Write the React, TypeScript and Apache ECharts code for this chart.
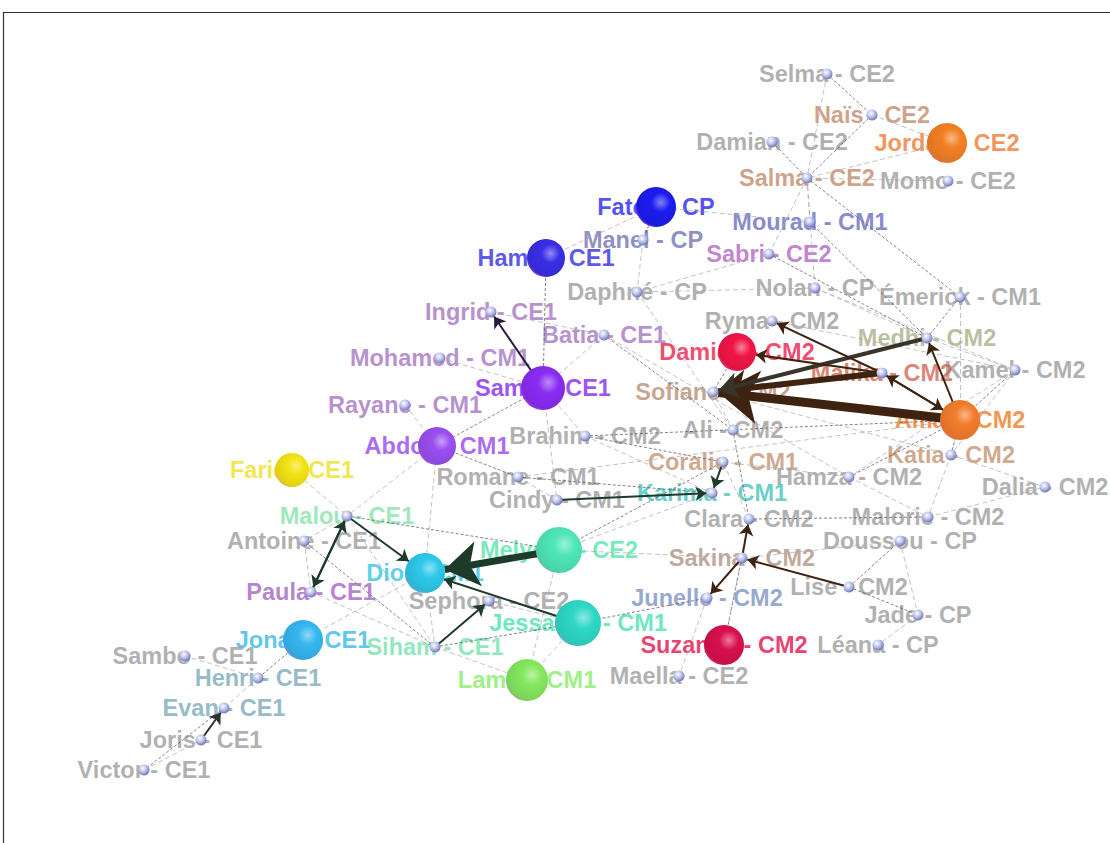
import React, { useEffect, useRef } from "react";
import * as echarts from "echarts";

// [name, class, x, y]
const people: [string, string, number, number][] = [
  ["Selma", "CE2", 827, 74],
  ["Naïs", "CE2", 872, 115],
  ["Damian", "CE2", 772, 142],
  ["Jordan", "CE2", 947, 143],
  ["Salma", "CE2", 807, 178],
  ["Momo", "CE2", 948, 181],
  ["Fatou", "CP", 656, 207],
  ["Mourad", "CM1", 810, 222],
  ["Manel", "CP", 643, 240],
  ["Hamia", "CE1", 546, 258],
  ["Sabri", "CE2", 769, 254],
  ["Daphné", "CP", 637, 292],
  ["Nolan", "CP", 815, 288],
  ["Émerick", "CM1", 960, 297],
  ["Ingrid", "CE1", 491, 312],
  ["Ryma", "CM2", 772, 321],
  ["Batia", "CE1", 604, 335],
  ["Medhi", "CM2", 927, 338],
  ["Damien", "CM2", 737, 352],
  ["Mohamed", "CM1", 440, 358],
  ["Kamel", "CM2", 1015, 370],
  ["Malika", "CM2", 882, 373],
  ["Samia", "CE1", 543, 388],
  ["Sofiane", "CM2", 713, 392],
  ["Rayane", "CM1", 405, 405],
  ["Amar", "CM2", 960, 420],
  ["Ali", "CM2", 733, 430],
  ["Brahim", "CM2", 585, 436],
  ["Abdou", "CM1", 437, 446],
  ["Katia", "CM2", 951, 455],
  ["Coralie", "CM1", 723, 462],
  ["Farid", "CE1", 292, 470],
  ["Romane", "CM1", 518, 477],
  ["Hamza", "CM2", 849, 477],
  ["Dalia", "CM2", 1045, 487],
  ["Karima", "CM1", 712, 493],
  ["Cindy", "CM1", 557, 500],
  ["Malou", "CE1", 347, 516],
  ["Malorie", "CM2", 928, 517],
  ["Clara", "CM2", 749, 519],
  ["Antoine", "CE1", 304, 541],
  ["Doussou", "CP", 900, 541],
  ["Melyssa", "CE2", 559, 550],
  ["Sakina", "CM2", 742, 558],
  ["Dior", "CM1", 425, 573],
  ["Lise", "CM2", 849, 587],
  ["Paula", "CE1", 311, 592],
  ["Junelle", "CM2", 707, 598],
  ["Sephora", "CE2", 489, 601],
  ["Jade", "CP", 918, 615],
  ["Jessanna", "CM1", 578, 623],
  ["Jonas", "CE1", 303, 640],
  ["Suzanne", "CM2", 724, 645],
  ["Léana", "CP", 878, 645],
  ["Siham", "CE1", 435, 647],
  ["Sambo", "CE1", 185, 656],
  ["Maella", "CE2", 679, 676],
  ["Henri", "CE1", 258, 678],
  ["Lamia", "CM1", 527, 680],
  ["Evan", "CE1", 224, 708],
  ["Joris", "CE1", 201, 740],
  ["Victor", "CE1", 144, 770],
];

// big spheres: name -> [diameter, base colour]
const bigNodes: Record<string, [number, string]> = {
  Fatou: [40, "#1c1cf0"],
  Hamia: [38, "#3a2ee6"],
  Samia: [44, "#8a2cf2"],
  Abdou: [38, "#9a4ef0"],
  Farid: [34, "#f2e412"],
  Dior: [40, "#2ec8ea"],
  Jonas: [40, "#36b6f0"],
  Melyssa: [46, "#4ee6b8"],
  Jessanna: [46, "#2ed8c6"],
  Lamia: [42, "#84e85e"],
  Suzanne: [40, "#d8104e"],
  Damien: [38, "#f01646"],
  Amar: [40, "#f27c2c"],
  Jordan: [40, "#f28024"],
};

const labelColors: Record<string, string> = {
  Fatou: "#2424f2", Hamia: "#2e2ee2", Samia: "#8424f0", Abdou: "#9444ee",
  Farid: "#eee020", Dior: "#32c4e2", Jonas: "#34b8ea", Melyssa: "#52e6a6",
  Jessanna: "#46e2b2", Lamia: "#84ee66", Suzanne: "#e4104a", Damien: "#ee1a4a",
  Amar: "#f27a22", Jordan: "#ee7a30",
  Naïs: "#c28a6a", Salma: "#c28a6a", Mourad: "#6a6ac2", Manel: "#7272b2",
  Sabri: "#b264c2", Ingrid: "#a474c2", Batia: "#a474c2", Mohamed: "#a474c2",
  Rayane: "#a474c2", Paula: "#a462c2", Medhi: "#a8ae86", Malika: "#d26452",
  Sofiane: "#b88e72", Coralie: "#c29272", Katia: "#c29272", Karima: "#44c2ba",
  Junelle: "#7a92c2", Sakina: "#b09282", Malou: "#84e2aa", Siham: "#74e2aa",
  Henri: "#7aa8b8", Evan: "#7aa8b8",
};

// directed ties: [source, target, weight]
const arrows: [string, string, number][] = [
  ["Amar", "Sofiane", 9],
  ["Malika", "Sofiane", 6],
  ["Medhi", "Sofiane", 4],
  ["Melyssa", "Dior", 7],
  ["Samia", "Ingrid", 2],
  ["Malou", "Dior", 2],
  ["Paula", "Malou", 2],
  ["Malou", "Paula", 2],
  ["Jessanna", "Dior", 2],
  ["Siham", "Sephora", 2],
  ["Joris", "Evan", 2],
  ["Cindy", "Karima", 2],
  ["Coralie", "Karima", 2],
  ["Malika", "Damien", 2],
  ["Malika", "Ryma", 2],
  ["Amar", "Malika", 2],
  ["Malika", "Amar", 2],
  ["Amar", "Medhi", 2],
  ["Lise", "Sakina", 2],
  ["Sakina", "Clara", 2],
  ["Sakina", "Junelle", 2],
];

// undirected thin ties
const ties: [string, string][] = [
  ["Selma", "Naïs"], ["Selma", "Salma"], ["Naïs", "Jordan"], ["Naïs", "Salma"],
  ["Jordan", "Salma"], ["Salma", "Momo"], ["Damian", "Salma"], ["Salma", "Sabri"],
  ["Salma", "Mourad"], ["Salma", "Émerick"], ["Salma", "Nolan"], ["Fatou", "Mourad"],
  ["Fatou", "Manel"], ["Fatou", "Hamia"], ["Manel", "Daphné"], ["Hamia", "Samia"],
  ["Daphné", "Sabri"], ["Daphné", "Ali"], ["Sabri", "Medhi"], ["Nolan", "Medhi"],
  ["Nolan", "Kamel"], ["Émerick", "Medhi"], ["Émerick", "Amar"], ["Medhi", "Kamel"],
  ["Kamel", "Amar"], ["Kamel", "Katia"], ["Katia", "Dalia"], ["Katia", "Amar"],
  ["Katia", "Malorie"], ["Hamza", "Malorie"], ["Hamza", "Amar"], ["Ingrid", "Batia"],
  ["Batia", "Samia"], ["Batia", "Ali"], ["Mohamed", "Samia"], ["Samia", "Brahim"],
  ["Samia", "Abdou"], ["Samia", "Cindy"], ["Rayane", "Abdou"], ["Abdou", "Romane"],
  ["Abdou", "Dior"], ["Abdou", "Malou"], ["Brahim", "Coralie"], ["Brahim", "Karima"],
  ["Romane", "Cindy"], ["Romane", "Karima"], ["Farid", "Malou"], ["Malou", "Antoine"],
  ["Malou", "Melyssa"], ["Malou", "Siham"], ["Antoine", "Paula"], ["Antoine", "Siham"],
  ["Paula", "Siham"], ["Jonas", "Dior"], ["Jonas", "Henri"], ["Henri", "Sambo"],
  ["Henri", "Evan"], ["Evan", "Victor"], ["Victor", "Joris"], ["Siham", "Lamia"],
  ["Siham", "Jessanna"], ["Dior", "Siham"], ["Melyssa", "Karima"], ["Melyssa", "Coralie"],
  ["Melyssa", "Sakina"], ["Melyssa", "Lamia"], ["Jessanna", "Junelle"], ["Jessanna", "Sephora"],
  ["Lamia", "Jessanna"], ["Clara", "Malorie"], ["Clara", "Coralie"], ["Sakina", "Doussou"],
  ["Sakina", "Suzanne"], ["Suzanne", "Clara"], ["Junelle", "Maella"], ["Doussou", "Lise"],
  ["Doussou", "Jade"], ["Jade", "Léana"], ["Lise", "Jade"], ["Malorie", "Dalia"],
  ["Ali", "Sofiane"], ["Ali", "Clara"], ["Coralie", "Hamza"], ["Sofiane", "Katia"],
  ["Damien", "Sofiane"], ["Ryma", "Kamel"], ["Hamza", "Kamel"], ["Brahim", "Amar"],
  ["Romane", "Amar"], ["Daphné", "Nolan"], ["Mourad", "Medhi"], ["Batia", "Hamza"],
];

function shade(hex: string, f: number): string {
  const n = parseInt(hex.slice(1), 16);
  let r = (n >> 16) & 255, g = (n >> 8) & 255, b = n & 255;
  if (f >= 0) {
    r = r + (255 - r) * f; g = g + (255 - g) * f; b = b + (255 - b) * f;
  } else {
    r = r * (1 + f); g = g * (1 + f); b = b * (1 + f);
  }
  const h = (v: number) => Math.round(v).toString(16).padStart(2, "0");
  return "#" + h(r) + h(g) + h(b);
}

function sphere(base: string) {
  return {
    type: "radial", x: 0.62, y: 0.38, r: 0.8,
    colorStops: [
      { offset: 0, color: shade(base, 0.45) },
      { offset: 0.3, color: base },
      { offset: 0.75, color: shade(base, -0.08) },
      { offset: 1, color: "#e268e0" },
    ],
  };
}

const smallSphere = {
  type: "radial", x: 0.4, y: 0.35, r: 0.7,
  colorStops: [
    { offset: 0, color: "#ffffff" },
    { offset: 0.5, color: "#b8c0ec" },
    { offset: 1, color: "#6a6aa8" },
  ],
};

function arrowColor(src: string): string {
  const cls = people.find((p) => p[0] === src)?.[1];
  if (src === "Samia") return "#2a1840";
  if (src === "Medhi") return "#38342a";
  if (cls === "CM2") return "#3e2410";
  if (src === "Joris") return "#303030";
  return "#1e3a2a";
}

export default function App() {
  const ref = useRef<HTMLDivElement>(null);
  useEffect(() => {
    document.body.style.margin = "0";
    const chart = echarts.init(ref.current!, null, { renderer: "svg" });
    const nodeData = people.map(([n, , x, y]) => {
      const big = bigNodes[n];
      return {
        name: n,
        value: [x, y],
        symbolSize: big ? big[0] : 11,
        itemStyle: { color: big ? sphere(big[1]) : smallSphere },
      };
    });
    const labelData = people.map(([n, c, x, y]) => ({
      name: n + " - " + c,
      value: [x, y],
      label: { color: labelColors[n] || "#9c9c9c" },
    }));
    const linkData: any[] = [];
    ties.forEach(([s, t], i) => {
      linkData.push({
        source: s, target: t,
        lineStyle: {
          color: i % 3 === 0 ? "#555" : "#aaa",
          width: 0.8,
          type: i % 3 === 0 ? [3, 2] : [5, 3],
          opacity: 0.9,
        },
      });
    });
    arrows.forEach(([s, t, w]) => {
      linkData.push({
        source: s, target: t,
        symbol: ["none", "arrow"],
        symbolSize: w >= 9 ? 40 : w >= 7 ? 34 : w >= 6 ? 28 : w >= 4 ? 20 : 11,
        lineStyle: { color: arrowColor(s), width: w, type: "solid", opacity: 1 },
      });
    });
    chart.setOption({
      animation: false,
      backgroundColor: "#ffffff",
      grid: { left: 0, right: 0, top: 0, bottom: 0 },
      xAxis: { type: "value", min: 0, max: 1110, show: false },
      yAxis: { type: "value", min: 0, max: 843, inverse: true, show: false },
      graphic: [
        {
          type: "rect",
          shape: { x: 3.5, y: 12.5, width: 1200, height: 900 },
          style: { fill: "none", stroke: "#333", lineWidth: 1.2 },
          z: 0,
        },
      ],
      series: [
        {
          type: "scatter",
          coordinateSystem: "cartesian2d",
          z: 1,
          symbolSize: 0,
          data: labelData,
          label: {
            show: true,
            position: "inside",
            formatter: "{b}",
            fontFamily: "Liberation Sans",
            fontWeight: "bold",
            fontSize: 23.5,
          },
          emphasis: { disabled: true },
          silent: true,
        },
        {
          type: "graph",
          coordinateSystem: "cartesian2d",
          layout: "none",
          z: 3,
          symbol: "circle",
          data: nodeData,
          links: linkData,
          label: { show: false },
          emphasis: { disabled: true },
          silent: true,
        },
      ],
    });
    return () => chart.dispose();
  }, []);
  return <div ref={ref} style={{ width: 1110, height: 843 }} />;
}
